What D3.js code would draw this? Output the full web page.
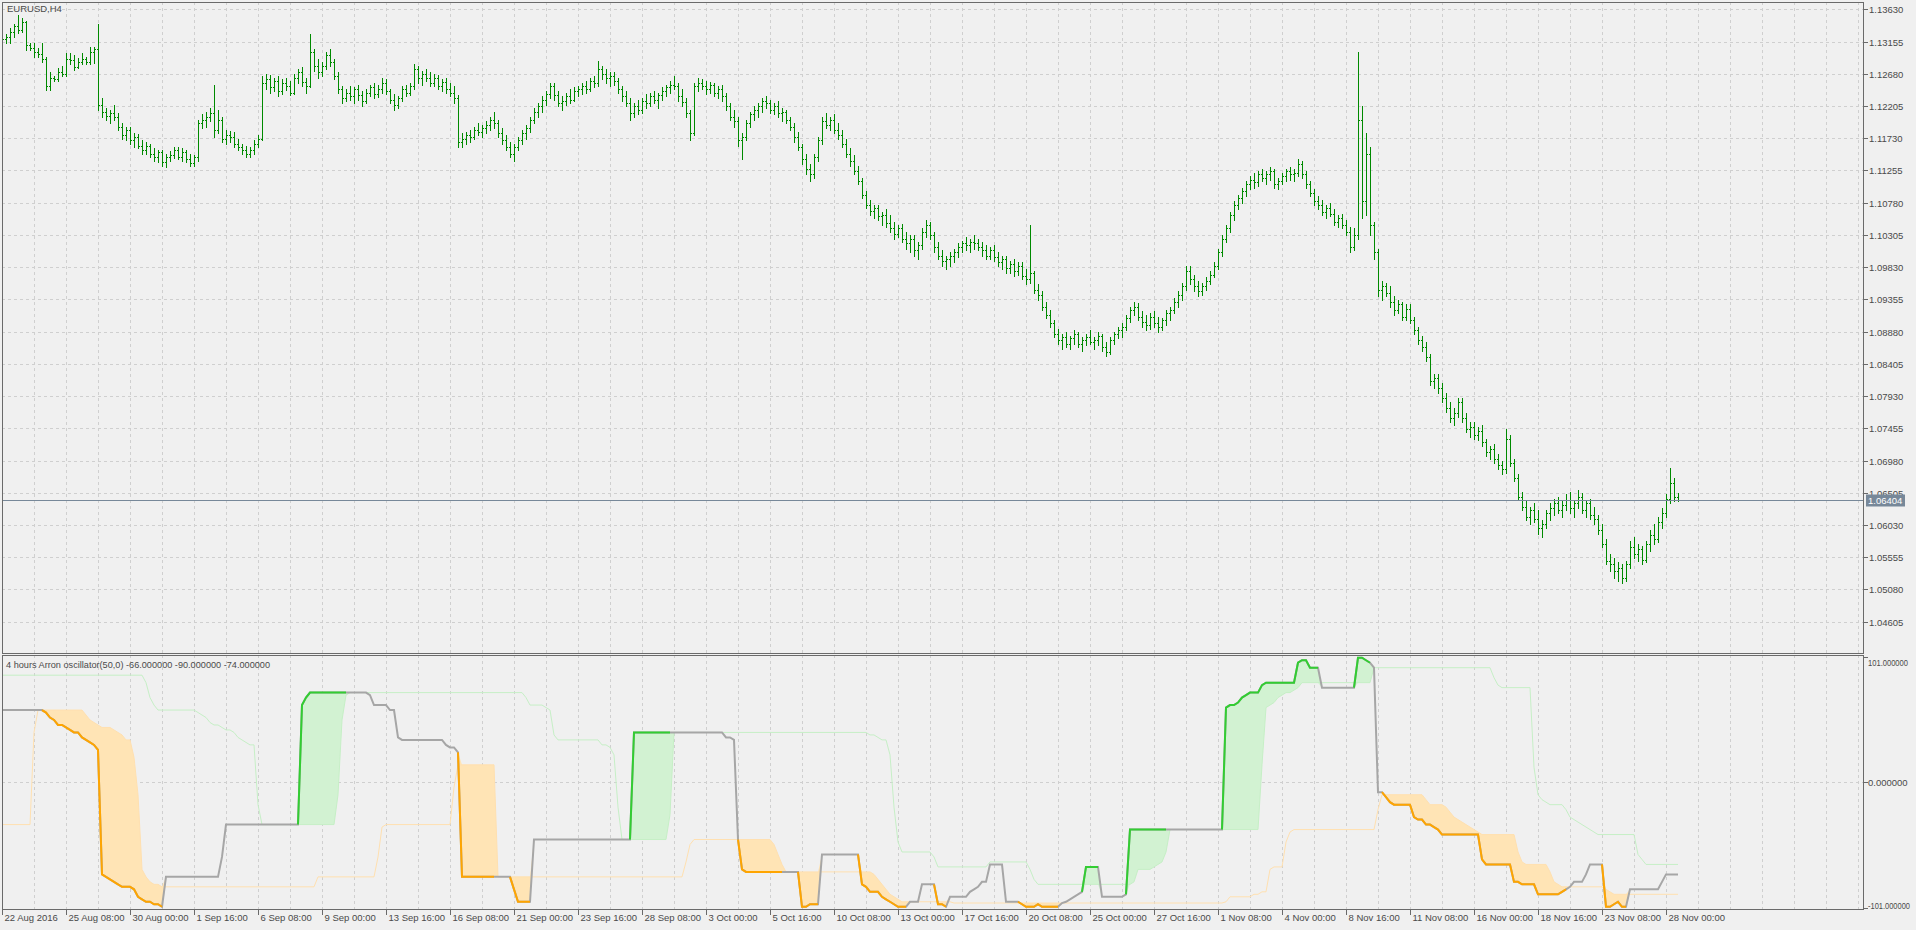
<!DOCTYPE html>
<html><head><meta charset="utf-8">
<script src="https://cdn.jsdelivr.net/npm/d3@7"></script>
<style>
html,body{margin:0;padding:0;background:#f0f0f0;overflow:hidden}
svg{display:block}
text{font-family:"Liberation Sans",Arial,sans-serif;font-size:9.5px;fill:#4a4a4a}
</style></head><body>
<svg id="c" width="1916" height="930"></svg>
<script>
// ---------------- DATA ----------------
const symbolTitle = "EURUSD,H4";
const indicatorTitle = "4 hours Arron oscillator(50,0) -66.000000 -90.000000 -74.000000";
const lastPrice = 1.06404;
const priceTicks = [1.13630,1.13155,1.12680,1.12205,1.11730,1.11255,1.10780,1.10305,1.09830,1.09355,1.08880,1.08405,1.07930,1.07455,1.06980,1.06505,1.06030,1.05555,1.05080,1.04605];
const oscTicks = [101, 0, -101];
const oscTickLabels = ["101.000000", "0.000000", "-101.000000"];
const xLabelBars = [0,16,32,48,64,80,96,112,128,144,160,176,192,208,224,240,256,272,288,304,320,336,352,368,384,400,416];
const xLabels = ["22 Aug 2016","25 Aug 08:00","30 Aug 00:00","1 Sep 16:00","6 Sep 08:00","9 Sep 00:00","13 Sep 16:00","16 Sep 08:00","21 Sep 00:00","23 Sep 16:00","28 Sep 08:00","3 Oct 00:00","5 Oct 16:00","10 Oct 08:00","13 Oct 00:00","17 Oct 16:00","20 Oct 08:00","25 Oct 00:00","27 Oct 16:00","1 Nov 08:00","4 Nov 00:00","8 Nov 16:00","11 Nov 08:00","16 Nov 00:00","18 Nov 16:00","23 Nov 08:00","28 Nov 00:00"];

const opens = [
1.1322,1.1319,1.1322,1.1330,1.1338,1.1332,1.1345,1.1310,1.1306,1.1300,
1.1297,1.1290,1.1250,1.1262,1.1260,1.1270,1.1267,1.1290,1.1288,1.1278,
1.1285,1.1290,1.1286,1.1300,1.1305,1.1222,1.1212,1.1206,1.1210,1.1205,
1.1190,1.1178,1.1185,1.1170,1.1175,1.1162,1.1155,1.1162,1.1150,1.1145,
1.1152,1.1138,1.1146,1.1148,1.1155,1.1146,1.1152,1.1142,1.1136,1.1145,
1.1195,1.1200,1.1205,1.1210,1.1185,1.1200,1.1172,1.1178,1.1175,1.1165,
1.1160,1.1156,1.1150,1.1155,1.1165,1.1172,1.1255,1.1260,1.1248,1.1258,
1.1242,1.1255,1.1250,1.1240,1.1262,1.1270,1.1256,1.1250,1.1300,1.1280,
1.1270,1.1280,1.1295,1.1285,1.1265,1.1245,1.1232,1.1240,1.1235,1.1245,
1.1236,1.1228,1.1240,1.1248,1.1238,1.1246,1.1255,1.1242,1.1230,1.1222,
1.1232,1.1245,1.1240,1.1250,1.1275,1.1262,1.1268,1.1262,1.1255,1.1262,
1.1250,1.1256,1.1245,1.1240,1.1232,1.1168,1.1172,1.1178,1.1175,1.1185,
1.1182,1.1188,1.1192,1.1200,1.1195,1.1180,1.1170,1.1160,1.1150,1.1160,
1.1170,1.1180,1.1188,1.1200,1.1212,1.1220,1.1230,1.1238,1.1250,1.1236,
1.1225,1.1228,1.1235,1.1230,1.1242,1.1245,1.1250,1.1245,1.1258,1.1255,
1.1275,1.1268,1.1262,1.1265,1.1258,1.1245,1.1235,1.1225,1.1210,1.1220,
1.1215,1.1228,1.1225,1.1235,1.1230,1.1236,1.1242,1.1248,1.1252,1.1250,
1.1235,1.1226,1.1210,1.1180,1.1250,1.1255,1.1250,1.1245,1.1252,1.1240,
1.1246,1.1235,1.1220,1.1205,1.1198,1.1170,1.1175,1.1195,1.1208,1.1215,
1.1220,1.1228,1.1225,1.1215,1.1220,1.1210,1.1212,1.1200,1.1190,1.1175,
1.1160,1.1142,1.1128,1.1120,1.1145,1.1170,1.1198,1.1192,1.1200,1.1185,
1.1178,1.1165,1.1150,1.1140,1.1125,1.1110,1.1090,1.1075,1.1066,1.1070,
1.1058,1.1060,1.1048,1.1040,1.1032,1.1040,1.1025,1.1018,1.1025,1.1008,
1.1015,1.1035,1.1045,1.1030,1.1012,1.1000,1.0992,1.0995,1.1000,1.1005,
1.1012,1.1018,1.1015,1.1020,1.1018,1.1012,1.1008,1.1000,1.1008,1.0998,
1.0990,1.0995,1.0982,1.0988,1.0978,1.0985,1.0970,1.0965,1.0975,1.0950,
1.0942,1.0925,1.0912,1.0900,1.0885,1.0875,1.0880,1.0870,1.0878,1.0885,
1.0870,1.0875,1.0880,1.0872,1.0876,1.0882,1.0865,1.0858,1.0875,1.0885,
1.0890,1.0895,1.0908,1.0920,1.0925,1.0910,1.0902,1.0898,1.0910,1.0900,
1.0895,1.0905,1.0915,1.0920,1.0932,1.0942,1.0955,1.0978,1.0965,1.0955,
1.0948,1.0955,1.0962,1.0972,1.0985,1.1005,1.1025,1.1040,1.1060,1.1075,
1.1085,1.1095,1.1105,1.1112,1.1108,1.1120,1.1115,1.1120,1.1125,1.1105,
1.1110,1.1118,1.1125,1.1120,1.1122,1.1135,1.1120,1.1105,1.1092,1.1080,
1.1075,1.1065,1.1070,1.1062,1.1050,1.1055,1.1045,1.1035,1.1012,1.1030,
1.1200,1.1080,1.1150,1.1045,1.1005,1.0950,1.0955,1.0945,1.0932,1.0920,
1.0928,1.0910,1.0922,1.0905,1.0890,1.0875,1.0865,1.0850,1.0815,1.0820,
1.0805,1.0790,1.0775,1.0760,1.0768,1.0785,1.0760,1.0745,1.0748,1.0735,
1.0742,1.0725,1.0710,1.0715,1.0700,1.0692,1.0685,1.0730,1.0695,1.0672,
1.0645,1.0630,1.0615,1.0625,1.0612,1.0598,1.0605,1.0620,1.0628,1.0635,
1.0625,1.0632,1.0640,1.0628,1.0635,1.0645,1.0625,1.0635,1.0618,1.0612,
1.0595,1.0575,1.0550,1.0545,1.0535,1.0540,1.0525,1.0545,1.0570,1.0560,
1.0568,1.0552,1.0575,1.0588,1.0582,1.0608,1.0620,1.0642,1.0665,1.0645];

const highs = [
1.1325,1.1326,1.1335,1.1342,1.1355,1.1350,1.1346,1.1313,1.1313,1.1306,
1.1313,1.1293,1.1271,1.1264,1.1276,1.1279,1.1298,1.1298,1.1296,1.1291,
1.1298,1.1293,1.1308,1.1308,1.1341,1.1232,1.1218,1.1215,1.1222,1.1210,
1.1196,1.1190,1.1190,1.1180,1.1179,1.1170,1.1168,1.1165,1.1158,1.1156,
1.1155,1.1150,1.1154,1.1160,1.1160,1.1158,1.1156,1.1150,1.1148,1.1200,
1.1208,1.1212,1.1218,1.1251,1.1215,1.1205,1.1185,1.1183,1.1182,1.1172,
1.1165,1.1162,1.1160,1.1170,1.1178,1.1265,1.1268,1.1266,1.1262,1.1265,
1.1260,1.1262,1.1258,1.1268,1.1275,1.1278,1.1262,1.1326,1.1305,1.1290,
1.1285,1.1300,1.1305,1.1290,1.1270,1.1250,1.1245,1.1250,1.1248,1.1252,
1.1242,1.1245,1.1252,1.1255,1.1252,1.1262,1.1260,1.1246,1.1238,1.1235,
1.1250,1.1252,1.1255,1.1283,1.1280,1.1272,1.1275,1.1270,1.1268,1.1266,
1.1260,1.1262,1.1255,1.1250,1.1236,1.1180,1.1182,1.1185,1.1190,1.1195,
1.1192,1.1198,1.1205,1.1212,1.1200,1.1188,1.1178,1.1168,1.1165,1.1175,
1.1185,1.1192,1.1205,1.1218,1.1225,1.1235,1.1242,1.1255,1.1255,1.1242,
1.1235,1.1240,1.1245,1.1248,1.1250,1.1255,1.1258,1.1262,1.1265,1.1287,
1.1280,1.1275,1.1270,1.1270,1.1262,1.1250,1.1242,1.1232,1.1225,1.1230,
1.1232,1.1238,1.1240,1.1242,1.1240,1.1248,1.1252,1.1258,1.1265,1.1255,
1.1245,1.1232,1.1215,1.1255,1.1262,1.1260,1.1258,1.1256,1.1255,1.1250,
1.1252,1.1240,1.1225,1.1215,1.1205,1.1180,1.1200,1.1212,1.1220,1.1225,
1.1232,1.1235,1.1230,1.1225,1.1228,1.1218,1.1215,1.1205,1.1195,1.1182,
1.1165,1.1150,1.1135,1.1150,1.1175,1.1205,1.1210,1.1205,1.1208,1.1195,
1.1185,1.1172,1.1158,1.1148,1.1132,1.1115,1.1095,1.1082,1.1075,1.1075,
1.1065,1.1068,1.1060,1.1050,1.1045,1.1046,1.1035,1.1030,1.1030,1.1020,
1.1040,1.1052,1.1050,1.1035,1.1020,1.1008,1.1000,1.1005,1.1010,1.1018,
1.1022,1.1028,1.1025,1.1030,1.1025,1.1020,1.1015,1.1012,1.1015,1.1005,
1.1000,1.1000,1.0992,1.0995,1.0990,1.0990,1.0980,1.1045,1.0978,1.0958,
1.0948,1.0932,1.0920,1.0905,1.0892,1.0885,1.0888,1.0882,1.0890,1.0888,
1.0880,1.0885,1.0890,1.0880,1.0888,1.0885,1.0872,1.0880,1.0888,1.0895,
1.0900,1.0912,1.0925,1.0932,1.0930,1.0918,1.0912,1.0915,1.0918,1.0910,
1.0908,1.0920,1.0925,1.0938,1.0948,1.0960,1.0985,1.0985,1.0972,1.0962,
1.0960,1.0968,1.0978,1.0990,1.1010,1.1030,1.1045,1.1065,1.1080,1.1090,
1.1100,1.1110,1.1118,1.1122,1.1125,1.1128,1.1125,1.1130,1.1128,1.1115,
1.1122,1.1128,1.1130,1.1128,1.1143,1.1140,1.1125,1.1110,1.1098,1.1088,
1.1082,1.1075,1.1078,1.1068,1.1060,1.1062,1.1052,1.1042,1.1040,1.1300,
1.1220,1.1180,1.1160,1.1050,1.1010,1.0962,1.0960,1.0955,1.0940,1.0935,
1.0932,1.0928,1.0928,1.0910,1.0895,1.0882,1.0872,1.0855,1.0825,1.0825,
1.0812,1.0798,1.0785,1.0775,1.0790,1.0790,1.0768,1.0755,1.0755,1.0748,
1.0750,1.0730,1.0720,1.0722,1.0708,1.0698,1.0745,1.0735,1.0700,1.0678,
1.0652,1.0640,1.0630,1.0635,1.0625,1.0610,1.0625,1.0635,1.0642,1.0645,
1.0640,1.0648,1.0652,1.0640,1.0655,1.0650,1.0640,1.0642,1.0630,1.0618,
1.0605,1.0582,1.0560,1.0555,1.0548,1.0545,1.0550,1.0580,1.0585,1.0575,
1.0572,1.0580,1.0595,1.0605,1.0615,1.0628,1.0648,1.0687,1.0672,1.0650];

const lows = [
1.1316,1.1314,1.1314,1.1322,1.1328,1.1330,1.1303,1.1303,1.1293,1.1293,
1.1285,1.1244,1.1244,1.1258,1.1258,1.1264,1.1264,1.1283,1.1274,1.1276,
1.1283,1.1283,1.1283,1.1284,1.1215,1.1205,1.1200,1.1195,1.1200,1.1185,
1.1172,1.1170,1.1165,1.1160,1.1158,1.1150,1.1150,1.1145,1.1140,1.1138,
1.1132,1.1130,1.1140,1.1144,1.1142,1.1140,1.1138,1.1132,1.1132,1.1140,
1.1188,1.1190,1.1198,1.1175,1.1180,1.1168,1.1165,1.1168,1.1160,1.1155,
1.1150,1.1145,1.1146,1.1150,1.1160,1.1170,1.1245,1.1240,1.1242,1.1235,
1.1238,1.1244,1.1236,1.1238,1.1255,1.1250,1.1240,1.1248,1.1272,1.1262,
1.1265,1.1275,1.1280,1.1260,1.1240,1.1225,1.1228,1.1230,1.1225,1.1230,
1.1220,1.1225,1.1235,1.1232,1.1234,1.1240,1.1238,1.1225,1.1215,1.1218,
1.1228,1.1235,1.1236,1.1246,1.1255,1.1252,1.1258,1.1250,1.1250,1.1245,
1.1242,1.1240,1.1235,1.1225,1.1160,1.1160,1.1165,1.1168,1.1172,1.1178,
1.1175,1.1180,1.1185,1.1188,1.1175,1.1165,1.1155,1.1145,1.1140,1.1155,
1.1165,1.1172,1.1182,1.1195,1.1205,1.1212,1.1222,1.1232,1.1230,1.1220,
1.1215,1.1222,1.1225,1.1228,1.1235,1.1238,1.1240,1.1242,1.1248,1.1250,
1.1260,1.1255,1.1250,1.1252,1.1240,1.1228,1.1220,1.1200,1.1205,1.1208,
1.1210,1.1218,1.1220,1.1225,1.1218,1.1230,1.1235,1.1240,1.1245,1.1228,
1.1220,1.1205,1.1170,1.1178,1.1242,1.1245,1.1238,1.1240,1.1235,1.1232,
1.1228,1.1215,1.1200,1.1190,1.1162,1.1143,1.1170,1.1190,1.1200,1.1205,
1.1212,1.1218,1.1210,1.1208,1.1205,1.1198,1.1195,1.1185,1.1168,1.1155,
1.1135,1.1120,1.1110,1.1115,1.1140,1.1165,1.1188,1.1185,1.1180,1.1172,
1.1160,1.1145,1.1132,1.1120,1.1105,1.1085,1.1070,1.1060,1.1055,1.1052,
1.1045,1.1042,1.1035,1.1025,1.1028,1.1020,1.1010,1.1005,1.1000,1.0995,
1.1010,1.1028,1.1025,1.1005,1.0995,1.0985,1.0980,1.0985,1.0990,1.0998,
1.1005,1.1008,1.1005,1.1010,1.1008,1.1000,1.0995,1.0995,1.0992,1.0985,
1.0980,1.0975,1.0975,1.0970,1.0972,1.0965,1.0958,1.0960,1.0945,1.0935,
1.0920,1.0908,1.0895,1.0880,1.0870,1.0862,1.0865,1.0862,1.0870,1.0865,
1.0860,1.0868,1.0870,1.0862,1.0868,1.0860,1.0852,1.0855,1.0870,1.0878,
1.0880,1.0890,1.0902,1.0912,1.0905,1.0895,1.0890,1.0892,1.0895,1.0888,
1.0890,1.0898,1.0905,1.0915,1.0925,1.0935,1.0950,1.0958,1.0948,1.0940,
1.0942,1.0950,1.0958,1.0968,1.0980,1.1000,1.1020,1.1035,1.1052,1.1068,
1.1078,1.1088,1.1098,1.1100,1.1102,1.1110,1.1105,1.1112,1.1100,1.1098,
1.1105,1.1110,1.1112,1.1110,1.1118,1.1115,1.1100,1.1088,1.1075,1.1068,
1.1060,1.1055,1.1058,1.1045,1.1042,1.1040,1.1030,1.1005,1.1008,1.1025,
1.1055,1.1060,1.1030,1.0995,1.0940,1.0935,1.0940,1.0925,1.0912,1.0915,
1.0905,1.0905,1.0900,1.0885,1.0870,1.0860,1.0845,1.0810,1.0805,1.0798,
1.0785,1.0770,1.0755,1.0750,1.0762,1.0755,1.0740,1.0732,1.0730,1.0728,
1.0720,1.0705,1.0700,1.0695,1.0685,1.0678,1.0680,1.0690,1.0668,1.0640,
1.0625,1.0610,1.0605,1.0608,1.0590,1.0585,1.0598,1.0610,1.0618,1.0620,
1.0615,1.0625,1.0620,1.0615,1.0628,1.0620,1.0615,1.0612,1.0605,1.0590,
1.0570,1.0545,1.0535,1.0525,1.0520,1.0517,1.0520,1.0540,1.0555,1.0550,
1.0545,1.0548,1.0565,1.0575,1.0578,1.0598,1.0615,1.0635,1.0638,1.0638];

const closes = [
1.1319,1.1322,1.1330,1.1338,1.1332,1.1345,1.1310,1.1306,1.1300,1.1297,
1.1290,1.1250,1.1262,1.1260,1.1270,1.1267,1.1290,1.1288,1.1278,1.1285,
1.1290,1.1286,1.1300,1.1305,1.1222,1.1212,1.1206,1.1210,1.1205,1.1190,
1.1178,1.1185,1.1170,1.1175,1.1162,1.1155,1.1162,1.1150,1.1145,1.1152,
1.1138,1.1146,1.1148,1.1155,1.1146,1.1152,1.1142,1.1136,1.1145,1.1195,
1.1200,1.1205,1.1210,1.1185,1.1200,1.1172,1.1178,1.1175,1.1165,1.1160,
1.1156,1.1150,1.1155,1.1165,1.1172,1.1255,1.1260,1.1248,1.1258,1.1242,
1.1255,1.1250,1.1240,1.1262,1.1270,1.1256,1.1250,1.1300,1.1280,1.1270,
1.1280,1.1295,1.1285,1.1265,1.1245,1.1232,1.1240,1.1235,1.1245,1.1236,
1.1228,1.1240,1.1248,1.1238,1.1246,1.1255,1.1242,1.1230,1.1222,1.1232,
1.1245,1.1240,1.1250,1.1275,1.1262,1.1268,1.1262,1.1255,1.1262,1.1250,
1.1256,1.1245,1.1240,1.1232,1.1168,1.1172,1.1178,1.1175,1.1185,1.1182,
1.1188,1.1192,1.1200,1.1195,1.1180,1.1170,1.1160,1.1150,1.1160,1.1170,
1.1180,1.1188,1.1200,1.1212,1.1220,1.1230,1.1238,1.1250,1.1236,1.1225,
1.1228,1.1235,1.1230,1.1242,1.1245,1.1250,1.1245,1.1258,1.1255,1.1275,
1.1268,1.1262,1.1265,1.1258,1.1245,1.1235,1.1225,1.1210,1.1220,1.1215,
1.1228,1.1225,1.1235,1.1230,1.1236,1.1242,1.1248,1.1252,1.1250,1.1235,
1.1226,1.1210,1.1180,1.1250,1.1255,1.1250,1.1245,1.1252,1.1240,1.1246,
1.1235,1.1220,1.1205,1.1198,1.1170,1.1175,1.1195,1.1208,1.1215,1.1220,
1.1228,1.1225,1.1215,1.1220,1.1210,1.1212,1.1200,1.1190,1.1175,1.1160,
1.1142,1.1128,1.1120,1.1145,1.1170,1.1198,1.1192,1.1200,1.1185,1.1178,
1.1165,1.1150,1.1140,1.1125,1.1110,1.1090,1.1075,1.1066,1.1070,1.1058,
1.1060,1.1048,1.1040,1.1032,1.1040,1.1025,1.1018,1.1025,1.1008,1.1015,
1.1035,1.1045,1.1030,1.1012,1.1000,1.0992,1.0995,1.1000,1.1005,1.1012,
1.1018,1.1015,1.1020,1.1018,1.1012,1.1008,1.1000,1.1008,1.0998,1.0990,
1.0995,1.0982,1.0988,1.0978,1.0985,1.0970,1.0965,1.0975,1.0950,1.0942,
1.0925,1.0912,1.0900,1.0885,1.0875,1.0880,1.0870,1.0878,1.0885,1.0870,
1.0875,1.0880,1.0872,1.0876,1.0882,1.0865,1.0858,1.0875,1.0885,1.0890,
1.0895,1.0908,1.0920,1.0925,1.0910,1.0902,1.0898,1.0910,1.0900,1.0895,
1.0905,1.0915,1.0920,1.0932,1.0942,1.0955,1.0978,1.0965,1.0955,1.0948,
1.0955,1.0962,1.0972,1.0985,1.1005,1.1025,1.1040,1.1060,1.1075,1.1085,
1.1095,1.1105,1.1112,1.1108,1.1120,1.1115,1.1120,1.1125,1.1105,1.1110,
1.1118,1.1125,1.1120,1.1122,1.1135,1.1120,1.1105,1.1092,1.1080,1.1075,
1.1065,1.1070,1.1062,1.1050,1.1055,1.1045,1.1035,1.1012,1.1030,1.1200,
1.1080,1.1150,1.1045,1.1005,1.0950,1.0955,1.0945,1.0932,1.0920,1.0928,
1.0910,1.0922,1.0905,1.0890,1.0875,1.0865,1.0850,1.0815,1.0820,1.0805,
1.0790,1.0775,1.0760,1.0768,1.0785,1.0760,1.0745,1.0748,1.0735,1.0742,
1.0725,1.0710,1.0715,1.0700,1.0692,1.0685,1.0730,1.0695,1.0672,1.0645,
1.0630,1.0615,1.0625,1.0612,1.0598,1.0605,1.0620,1.0628,1.0635,1.0625,
1.0632,1.0640,1.0628,1.0635,1.0645,1.0625,1.0635,1.0618,1.0612,1.0595,
1.0575,1.0550,1.0545,1.0535,1.0540,1.0525,1.0545,1.0570,1.0560,1.0568,
1.0552,1.0575,1.0588,1.0582,1.0608,1.0620,1.0642,1.0665,1.0645,1.06404];

const oscValues = [
58,58,58,58,58,58,58,58,58,58,
58,56,52,50,46,46,44,42,40,40,
36,34,32,30,26,-74,-76,-78,-80,-82,
-84,-84,-84,-86,-92,-94,-96,-96,-98,-98,
-100,-76,-76,-76,-76,-76,-76,-76,-76,-76,
-76,-76,-76,-76,-76,-60,-34,-34,-34,-34,
-34,-34,-34,-34,-34,-34,-34,-34,-34,-34,
-34,-34,-34,-34,-34,62,68,72,72,72,
72,72,72,72,72,72,72,72,72,72,
72,72,70,62,62,62,62,58,58,36,
34,34,34,34,34,34,34,34,34,34,
34,30,28,28,24,-76,-76,-76,-76,-76,
-76,-76,-76,-76,-76,-76,-76,-76,-86,-96,
-96,-96,-96,-46,-46,-46,-46,-46,-46,-46,
-46,-46,-46,-46,-46,-46,-46,-46,-46,-46,
-46,-46,-46,-46,-46,-46,-46,-46,40,40,
40,40,40,40,40,40,40,40,40,40,
40,40,40,40,40,40,40,40,40,40,
40,36,36,34,-46,-70,-72,-72,-72,-72,
-72,-72,-72,-72,-72,-72,-72,-72,-72,-72,
-100,-100,-98,-98,-98,-58,-58,-58,-58,-58,
-58,-58,-58,-58,-58,-82,-84,-88,-88,-88,
-92,-94,-96,-98,-100,-100,-100,-96,-96,-96,
-82,-82,-82,-82,-98,-98,-100,-92,-92,-92,
-92,-92,-88,-86,-84,-80,-80,-66,-66,-66,
-66,-96,-96,-96,-96,-98,-100,-100,-100,-98,
-100,-100,-100,-100,-100,-97,-96,-94,-92,-90,
-88,-68,-68,-68,-68,-92,-92,-92,-92,-92,
-92,-90,-38,-38,-38,-38,-38,-38,-38,-38,
-38,-38,-38,-38,-38,-38,-38,-38,-38,-38,
-38,-38,-38,-38,-38,-38,60,62,62,64,
68,70,72,72,72,78,80,80,80,80,
80,80,80,80,96,98,98,92,92,92,
76,76,76,76,76,76,76,76,76,100,
100,98,96,92,-8,-8,-12,-16,-18,-18,
-18,-18,-18,-28,-30,-30,-34,-34,-36,-38,
-42,-42,-42,-42,-42,-42,-42,-42,-42,-42,
-62,-66,-66,-66,-66,-66,-66,-66,-80,-80,
-82,-82,-82,-82,-90,-90,-90,-90,-90,-90,
-88,-86,-84,-80,-80,-80,-74,-66,-66,-66,
-66,-100,-100,-98,-96,-100,-100,-86,-86,-86,
-86,-86,-86,-86,-86,-80,-74,-74,-74,-74];

const upperLevel = [
86,86,86,86,86,86,86,86,86,86,
86,86,86,86,86,86,86,86,86,86,
86,86,86,86,86,86,86,86,86,86,
86,86,86,86,86,86,80,68,62,58,
58,58,58,58,58,58,58,58,58,56,
54,52,48,46,46,44,42,42,40,36,
34,32,30,30,-18,-34,-34,-34,-34,-34,
-34,-34,-34,-34,-34,-34,-34,-34,-34,-34,
-34,-34,-34,-34,-10,50,70,72,72,72,
72,72,72,72,72,72,72,72,72,72,
72,72,72,72,72,72,72,72,72,72,
72,72,72,72,72,72,72,72,72,72,
72,72,72,72,72,72,72,72,72,72,
72,68,62,62,62,62,60,58,38,34,
34,34,34,34,34,34,34,34,34,34,
30,30,28,22,-20,-46,-46,-46,-46,-46,
-46,-46,-46,-46,-46,-46,-46,-26,40,40,
40,40,40,40,40,40,40,40,40,40,
40,40,40,40,40,40,40,40,40,40,
40,40,40,40,40,40,40,40,40,40,
40,40,40,40,40,40,40,40,40,40,
40,40,40,40,40,40,40,38,38,36,
34,34,22,-20,-48,-56,-56,-56,-56,-56,
-56,-56,-56,-60,-68,-68,-68,-68,-68,-68,
-68,-68,-68,-68,-68,-68,-68,-64,-64,-64,
-64,-64,-64,-64,-64,-64,-64,-70,-78,-82,
-82,-82,-82,-82,-82,-82,-82,-82,-82,-82,
-82,-82,-82,-82,-82,-82,-82,-82,-82,-82,
-82,-82,-82,-80,-70,-70,-70,-70,-68,-66,
-64,-56,-38,-38,-38,-38,-38,-38,-38,-38,
-38,-38,-38,-38,-38,-38,-38,-38,-38,-38,
-38,-38,-38,-38,-38,14,60,62,64,68,
70,72,72,74,76,80,80,80,80,80,
80,80,80,80,80,80,80,80,80,80,
80,80,80,92,92,92,92,92,92,92,
92,92,92,92,92,92,92,92,92,92,
92,92,92,92,92,92,92,92,92,92,
92,92,92,84,78,76,76,76,76,76,
76,76,76,12,-10,-14,-16,-18,-18,-18,
-18,-22,-28,-30,-32,-34,-36,-38,-40,-42,
-42,-42,-42,-42,-42,-42,-42,-42,-42,-58,
-62,-66,-66,-66,-66,-66,-66,-66,-66,-66];

const lowerLevel = [
-34,-34,-34,-34,-34,-34,-34,-34,40,58,
58,58,58,58,58,58,58,58,58,58,
58,54,50,48,46,44,44,44,42,40,
38,34,34,20,-10,-70,-76,-80,-82,-82,
-84,-84,-84,-84,-84,-84,-84,-84,-84,-84,
-84,-84,-84,-84,-84,-84,-84,-84,-84,-84,
-84,-84,-84,-84,-84,-84,-84,-84,-84,-84,
-84,-84,-84,-84,-84,-84,-84,-84,-84,-76,
-76,-76,-76,-76,-76,-76,-76,-76,-76,-76,
-76,-76,-76,-76,-60,-36,-34,-34,-34,-34,
-34,-34,-34,-34,-34,-34,-34,-34,-34,-34,
-34,-34,-34,-4,14,14,14,14,14,14,
14,14,14,14,-76,-76,-76,-76,-76,-76,
-76,-76,-76,-76,-76,-76,-76,-76,-76,-76,
-76,-76,-76,-76,-76,-76,-76,-76,-76,-76,
-76,-76,-76,-76,-76,-76,-76,-76,-76,-76,
-76,-76,-76,-76,-76,-76,-76,-76,-76,-76,
-76,-64,-50,-46,-46,-46,-46,-46,-46,-46,
-46,-46,-46,-46,-46,-46,-46,-46,-46,-46,
-46,-46,-46,-50,-58,-66,-72,-72,-72,-72,
-72,-72,-72,-72,-72,-72,-72,-72,-72,-72,
-72,-72,-72,-72,-72,-72,-72,-72,-74,-78,
-82,-86,-90,-92,-94,-96,-96,-96,-96,-96,
-96,-96,-96,-96,-96,-96,-96,-96,-97,-97,
-97,-97,-97,-97,-97,-97,-97,-97,-97,-97,
-97,-97,-97,-97,-97,-97,-97,-97,-97,-97,
-97,-97,-97,-97,-97,-97,-97,-97,-97,-97,
-97,-97,-97,-97,-97,-97,-97,-97,-97,-97,
-97,-97,-97,-97,-97,-97,-97,-97,-97,-97,
-97,-97,-97,-97,-97,-97,-97,-97,-97,-97,
-97,-97,-97,-97,-97,-97,-96,-92,-92,-92,
-92,-92,-92,-90,-90,-88,-88,-70,-68,-68,
-68,-48,-40,-38,-38,-38,-38,-38,-38,-38,
-38,-38,-38,-38,-38,-38,-38,-38,-38,-38,
-38,-38,-38,-38,-22,-10,-10,-10,-10,-10,
-10,-10,-10,-10,-10,-10,-14,-18,-18,-18,
-18,-20,-24,-28,-30,-32,-34,-36,-38,-40,
-42,-42,-42,-42,-42,-42,-42,-42,-42,-56,
-64,-66,-66,-66,-66,-66,-66,-72,-80,-82,
-84,-84,-84,-84,-84,-84,-84,-84,-84,-84,
-84,-86,-88,-90,-90,-90,-90,-90,-90,-90,
-90,-90,-90,-90,-90,-90,-90,-90,-90,-90];

// ---------------- LAYOUT / STYLE ----------------
const W = 1916, H = 930;
const L = 2, R = 1863;
const mainT = 2, mainB = 653, indT = 655, indB = 909;
const C = {
  bg: "#f0f0f0", border: "#6a6a6a", grid: "#cfcfcf",
  bar: "#008a00", price: "#778899",
  gray: "#a6a6a6", green: "#32cd32", orange: "#ffa500",
  greenFill: "#d2f2d2", orangeFill: "#ffe4b5",
  upThin: "#c6efc6", dnThin: "#ffe0b0"
};

const svg = d3.select("#c");
svg.append("rect").attr("width", W).attr("height", H).attr("fill", C.bg);

const N = closes.length;
const x = d3.scaleLinear().domain([0, 1]).range([2, 6]);            // bar index -> px (4 px per bar)
const yP = d3.scaleLinear().domain([1.04605, 1.13630]).range([621.7, 9.3]);
const yO = d3.scaleLinear().domain([-101, 101]).range([908, 656.5]);

const defs = svg.append("defs");
defs.append("clipPath").attr("id", "clipMain").append("rect")
  .attr("x", L).attr("y", mainT).attr("width", R - L).attr("height", mainB - mainT);
defs.append("clipPath").attr("id", "clipInd").append("rect")
  .attr("x", L).attr("y", indT).attr("width", R - L).attr("height", indB - indT);

// ---------------- GRID ----------------
const grid = svg.append("g").attr("stroke", C.grid).attr("stroke-dasharray", "3,3")
  .attr("shape-rendering", "crispEdges");
d3.range(8, 466, 8).forEach(b => {
  const gx = Math.round(x(b)) + 0.5;
  if (gx >= R) return;
  grid.append("line").attr("x1", gx).attr("x2", gx).attr("y1", mainT).attr("y2", mainB);
  grid.append("line").attr("x1", gx).attr("x2", gx).attr("y1", indT).attr("y2", indB);
});
priceTicks.forEach(p => {
  const gy = Math.round(yP(p)) + 0.5;
  grid.append("line").attr("x1", L).attr("x2", R).attr("y1", gy).attr("y2", gy);
});
{
  const gy = Math.round(yO(0)) + 0.5;
  grid.append("line").attr("x1", L).attr("x2", R).attr("y1", gy).attr("y2", gy);
}

// ---------------- PRICE BARS ----------------
const gBars = svg.append("g").attr("clip-path", "url(#clipMain)");
let dBars = "";
for (let i = 0; i < N; i++) {
  const bx = Math.round(x(i));
  const yh = Math.round(yP(highs[i])), yl = Math.round(yP(lows[i]));
  const yo = Math.round(yP(opens[i])), yc = Math.round(yP(closes[i]));
  dBars += `M${bx + 0.5},${yh}V${Math.max(yl, yh + 1) + 1}`;
  dBars += `M${bx - 1},${yo + 0.5}H${bx}`;
  dBars += `M${bx + 1},${yc + 0.5}H${bx + 2}`;
}
gBars.append("path").attr("d", dBars).attr("fill", "none").attr("stroke", C.bar)
  .attr("stroke-width", 1).attr("shape-rendering", "crispEdges");

const yLast = Math.round(yP(lastPrice)) + 0.5;
svg.append("line").attr("x1", L).attr("x2", R).attr("y1", yLast).attr("y2", yLast)
  .attr("stroke", C.price).attr("stroke-width", 1).attr("shape-rendering", "crispEdges");

// ---------------- INDICATOR ----------------
const gInd = svg.append("g").attr("clip-path", "url(#clipInd)");
const idx = d3.range(N);
const areaDn = d3.area().x(i => x(i)).y0(i => yO(oscValues[i])).y1(i => yO(Math.max(oscValues[i], lowerLevel[i])));
const areaUp = d3.area().x(i => x(i)).y0(i => yO(oscValues[i])).y1(i => yO(Math.min(oscValues[i], upperLevel[i])));
gInd.append("path").attr("d", areaDn(idx)).attr("fill", C.orangeFill);
gInd.append("path").attr("d", areaUp(idx)).attr("fill", C.greenFill);

const lineOf = arr => d3.line().x(i => x(i)).y(i => yO(arr[i]));
gInd.append("path").attr("d", lineOf(upperLevel)(idx)).attr("fill", "none").attr("stroke", C.upThin).attr("stroke-width", 1);
gInd.append("path").attr("d", lineOf(lowerLevel)(idx)).attr("fill", "none").attr("stroke", C.dnThin).attr("stroke-width", 1);
gInd.append("path").attr("d", lineOf(oscValues)(idx)).attr("fill", "none").attr("stroke", C.gray).attr("stroke-width", 2);

const state = idx.map(i => oscValues[i] > upperLevel[i] ? "up" : (oscValues[i] < lowerLevel[i] ? "dn" : ""));
const runs = [];
for (let j = 1; j < N; j++) {
  if (!state[j]) continue;
  const last = runs[runs.length - 1];
  if (last && last.s === state[j] && last.end === j - 1) last.end = j;
  else runs.push({ s: state[j], start: j - 1, end: j });
}
runs.forEach(r => {
  gInd.append("path").attr("d", lineOf(oscValues)(d3.range(r.start, r.end + 1)))
    .attr("fill", "none").attr("stroke", r.s === "up" ? C.green : C.orange).attr("stroke-width", 2);
});

// ---------------- BORDERS ----------------
const bd = svg.append("g").attr("fill", "none").attr("stroke", C.border).attr("shape-rendering", "crispEdges");
bd.append("rect").attr("x", L + 0.5).attr("y", mainT + 0.5).attr("width", R - L).attr("height", mainB - mainT);
bd.append("rect").attr("x", L + 0.5).attr("y", indT + 0.5).attr("width", R - L).attr("height", indB - indT);

// ---------------- AXES TEXT ----------------
const txt = svg.append("g");
priceTicks.forEach(p => {
  const ty = Math.round(yP(p)) + 0.5;
  txt.append("line").attr("x1", R + 1).attr("x2", R + 5).attr("y1", ty).attr("y2", ty)
    .attr("stroke", C.border).attr("shape-rendering", "crispEdges");
  txt.append("text").attr("x", R + 6).attr("y", ty).attr("dy", "0.35em").text(p.toFixed(5));
});
txt.append("rect").attr("x", R + 3).attr("y", yLast - 6).attr("width", 39).attr("height", 12).attr("fill", C.price);
txt.append("text").attr("x", R + 5).attr("y", yLast).attr("dy", "0.35em").style("fill", "#ffffff").text(lastPrice.toFixed(5));

oscTicks.forEach((v, k) => {
  const ty = Math.round(yO(v)) + 0.5;
  txt.append("line").attr("x1", R + 1).attr("x2", R + 5).attr("y1", ty).attr("y2", ty)
    .attr("stroke", C.border).attr("shape-rendering", "crispEdges");
  const ly = k === 0 ? ty + 5 : (k === 2 ? ty - 3 : ty);
  const t = txt.append("text").attr("x", R + 5).attr("y", ly).attr("dy", "0.35em").text(oscTickLabels[k]);
  if (k !== 1) t.attr("textLength", k === 0 ? 40 : 42).attr("lengthAdjust", "spacingAndGlyphs");
});

xLabelBars.forEach((b, k) => {
  const tx = Math.round(x(b)) + 0.5;
  txt.append("line").attr("x1", tx).attr("x2", tx).attr("y1", indB + 1).attr("y2", indB + 6)
    .attr("stroke", C.border).attr("shape-rendering", "crispEdges");
  txt.append("text").attr("x", tx + 2).attr("y", 918).attr("dy", "0.35em").text(xLabels[k]);
});

txt.append("text").attr("x", 7).attr("y", 9).attr("dy", "0.35em").text(symbolTitle);
txt.append("text").attr("x", 6).attr("y", 665).attr("dy", "0.35em")
  .attr("textLength", 264).attr("lengthAdjust", "spacingAndGlyphs").text(indicatorTitle);
</script>
</body></html>
